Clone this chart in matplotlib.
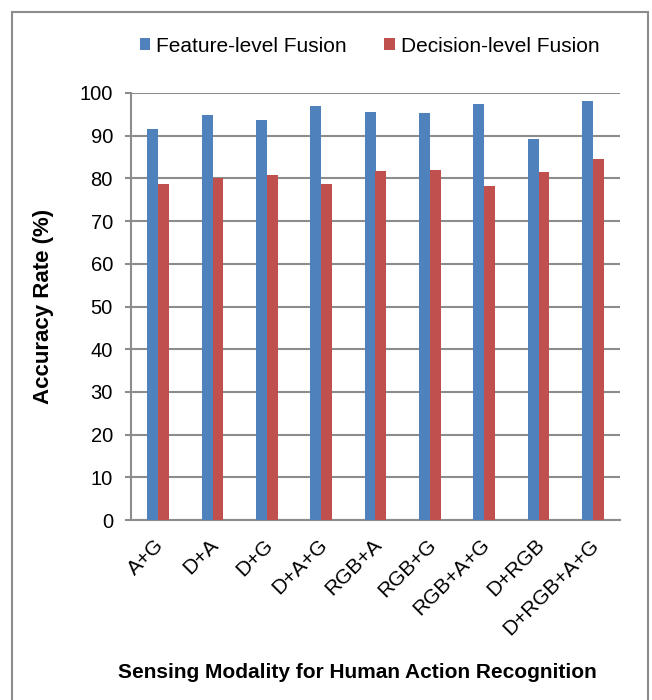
import matplotlib
matplotlib.use("Agg")
import matplotlib.pyplot as plt
import matplotlib.transforms as mtransforms
import numpy as np
from matplotlib.patches import Rectangle

plt.rcParams['font.family'] = ['Liberation Sans', 'DejaVu Sans']

categories = ["A+G", "D+A", "D+G", "D+A+G", "RGB+A", "RGB+G", "RGB+A+G", "D+RGB", "D+RGB+A+G"]
feature_level = [91.6, 94.8, 93.7, 96.9, 95.6, 95.3, 97.5, 89.2, 98.2]
decision_level = [78.8, 80.1, 80.8, 78.7, 81.8, 82.0, 78.3, 81.6, 84.6]
series_names = ["Feature-level Fusion", "Decision-level Fusion"]
yticks = [0, 10, 20, 30, 40, 50, 60, 70, 80, 90, 100]

blue = "#4f81bd"
red = "#c0504d"
grid_c = "#8c8c8c"
fs = 15

fig = plt.figure(figsize=(6.52, 7.0), dpi=100)
ax = fig.add_axes([131/652, 1 - 520/700, (620 - 131)/652, 427/700])

x = np.arange(len(categories))
w = 0.2
ax.bar(x - w/2, feature_level, w, color=blue, label=series_names[0], zorder=3)
ax.bar(x + w/2, decision_level, w, color=red, label=series_names[1], zorder=3)

ax.set_ylim(0, 100)
ax.set_xlim(-0.5, len(categories) - 0.5)
ax.set_yticks(yticks)
ax.yaxis.grid(True, color=grid_c, linewidth=1.5, zorder=0)
ax.set_axisbelow(True)
for s in ["top", "right"]:
    ax.spines[s].set_visible(False)
ax.spines["left"].set_color(grid_c)
ax.spines["left"].set_linewidth(1.5)
ax.spines["bottom"].set_color(grid_c)
ax.spines["bottom"].set_linewidth(1.5)
ax.tick_params(axis="y", length=4, width=1.5, color=grid_c, labelsize=fs - 0.5, pad=9)
ax.tick_params(axis="x", length=0, labelsize=fs, pad=16)
ax.set_xticks(x)
ax.set_xticklabels(categories, rotation=45, ha="right", va="center", rotation_mode="anchor")
offset = mtransforms.ScaledTranslation(3/100, 0, fig.dpi_scale_trans)
for lbl in ax.get_xticklabels():
    lbl.set_transform(lbl.get_transform() + offset)

ax.set_ylabel("Accuracy Rate (%)", fontsize=fs + 1, fontweight="bold")
ax.yaxis.set_label_coords(-(131 - 54) / 489, 0.5)
fig.text(0.548, 0.04, "Sensing Modality for Human Action Recognition", ha="center",
         va="center", fontsize=fs, fontweight="bold")

leg = fig.legend(loc="center", bbox_to_anchor=(0.567, 0.934), ncol=2, frameon=False,
                 fontsize=fs, handlelength=0.5, handleheight=0.5, handletextpad=0.3,
                 columnspacing=1.8)

fig.patches.append(Rectangle((12/652, -0.05), 636/652, 1.05 - 12/700, transform=fig.transFigure,
                             fill=False, edgecolor="#8c8c8c", linewidth=1.5))

fig.savefig("out.png", dpi=100)
